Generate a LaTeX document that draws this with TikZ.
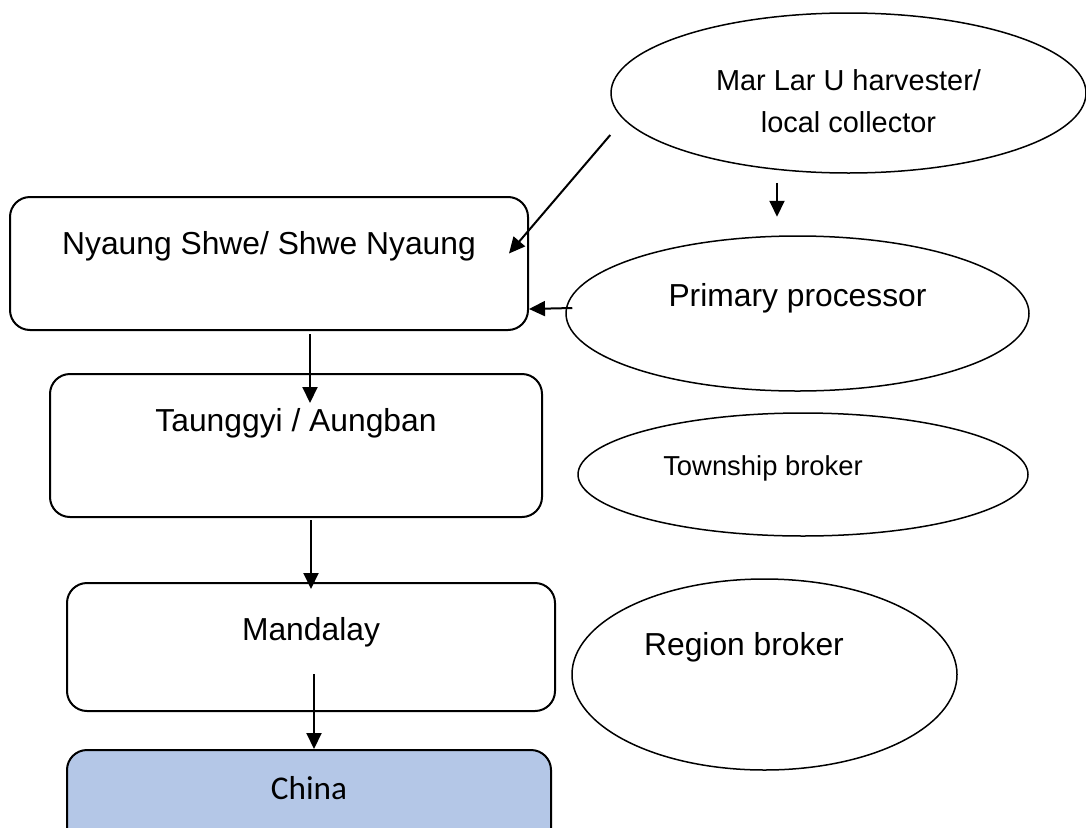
\documentclass[tikz,border=0pt]{standalone}
\usepackage{fontspec}
\setmainfont{Liberation Sans}
\newfontfamily\chinafont{Carlito}
\usetikzlibrary{shapes.geometric,arrows.meta}
\definecolor{chinablue}{RGB}{180,199,231}

\begin{document}
\begin{tikzpicture}[x=1pt, y=-1pt,
    market/.style={draw, rounded corners=20pt, line width=2pt, anchor=north west,
      inner sep=0pt, text height=57pt, font=\fontsize{31.8pt}{38pt}\selectfont},
    trader/.style={draw, ellipse, line width=1.5pt, inner sep=0pt},
    flow/.style={-{Triangle[length=16pt,width=15pt]}, line width=2pt}]
  \useasboundingbox (0,0) rectangle (1086,827);
  \clip (0,0) rectangle (1086,827);

  \node[market, minimum width=518pt, text depth=76pt] (ns) at (9,196) {Nyaung Shwe/ Shwe Nyaung};
  \node[market, minimum width=492pt, text depth=86pt] (ta) at (49,373) {Taunggyi / Aungban};
  \node[market, minimum width=488pt, text depth=71pt] (ma) at (66,582) {Mandalay};
  \node[market, minimum width=484pt, text height=49pt, text depth=52pt, fill=chinablue,
    font=\chinafont\fontsize{33.2pt}{40pt}\selectfont] (ch) at (66,749) {China};

  \node[trader, minimum width=475pt, minimum height=160pt,
    label={[align=center, font=\fontsize{28.9pt}{42pt}\selectfont, yshift=-7.9pt]center:{Mar Lar U harvester/\\local collector}}]
    (lc) at (848.5,93) {};
  \node[trader, minimum width=463pt, minimum height=155pt,
    label={[font=\fontsize{31.8pt}{38pt}\selectfont, yshift=15.6pt]center:Primary processor}]
    (pp) at (797.5,313.5) {};
  \node[trader, minimum width=450pt, minimum height=123pt,
    label={[font=\fontsize{27.4pt}{33pt}\selectfont, xshift=-40pt, yshift=5.6pt]center:Township broker}]
    (tb) at (803,474.5) {};
  \node[trader, minimum width=385pt, minimum height=191pt,
    label={[font=\fontsize{31.8pt}{38pt}\selectfont, xshift=-20.5pt, yshift=27.7pt]center:Region broker}]
    (rb) at (764.5,674.5) {};

  \draw[flow] ([yshift=-42pt]lc.west) -- ([xshift=-20pt,yshift=10pt]ns.east);
  \draw[flow] ([xshift=-71.5pt,yshift=-9pt]lc.south) -- ([xshift=-20.5pt,yshift=18.5pt]pp.north);
  \draw[flow] ([xshift=7pt,yshift=5.5pt]pp.west) -- ([yshift=-45.5pt]ns.east);
  \draw[flow] ([xshift=41pt,yshift=-3pt]ns.south) -- ([xshift=14pt,yshift=-30pt]ta.north);
  \draw[flow] ([xshift=15pt,yshift=-2pt]ta.south) -- ([yshift=-7pt]ma.north);
  \draw[flow] ([xshift=3pt,yshift=38pt]ma.south) -- ([xshift=5pt]ch.north);
\end{tikzpicture}
\end{document}
